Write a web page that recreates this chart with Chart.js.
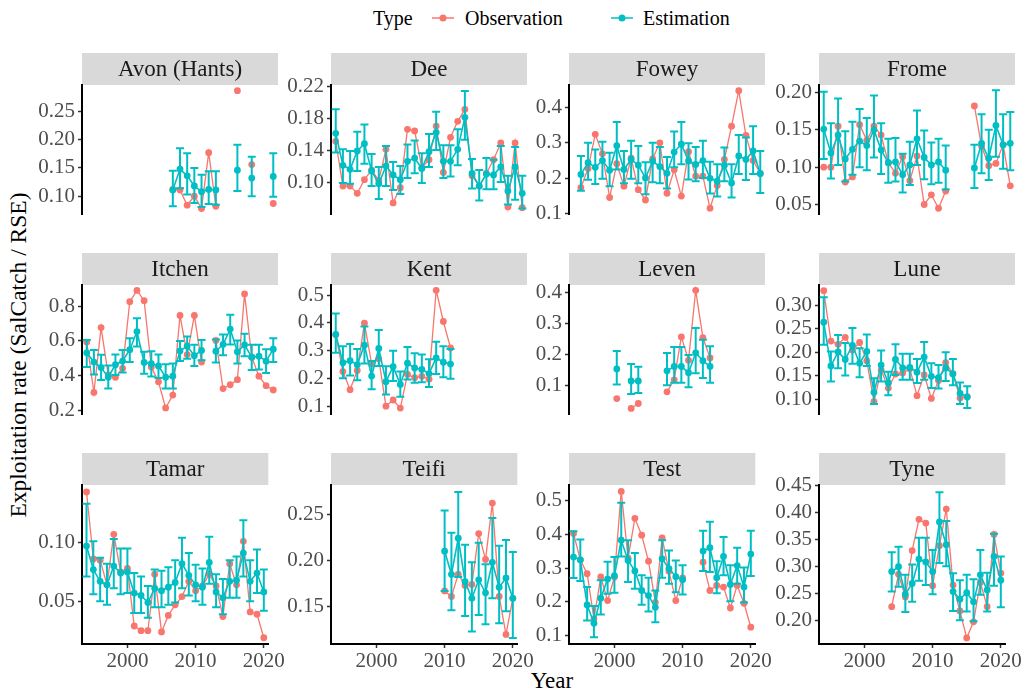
<!DOCTYPE html>
<html>
<head>
<meta charset="utf-8">
<script src="https://cdn.jsdelivr.net/npm/chart.js@4.4.7/dist/chart.umd.min.js"></script>
<style>
  body { margin: 0; background: #fff; width: 1033px; height: 693px; position: relative; overflow: hidden;
         font-family: "Liberation Serif", "DejaVu Serif", serif; }
  canvas { position: absolute; }
  .txt { position: absolute; white-space: nowrap; color: #000; line-height: 1; }
</style>
</head>
<body>
<div class="txt" style="left:373px;top:8px;font-size:20px">Type</div>
<svg style="position:absolute;left:431px;top:8px" width="24" height="20"><line x1="1" y1="10" x2="23" y2="10" stroke="#F8766D" stroke-width="1.5"/><circle cx="12" cy="10" r="3.5" fill="#F8766D"/></svg>
<div class="txt" style="left:465px;top:8px;font-size:20px">Observation</div>
<svg style="position:absolute;left:610px;top:8px" width="24" height="20"><line x1="1" y1="10" x2="23" y2="10" stroke="#00BFC4" stroke-width="1.5"/><circle cx="12" cy="10" r="3.5" fill="#00BFC4"/></svg>
<div class="txt" style="left:643px;top:8px;font-size:20px">Estimation</div>
<div class="txt" style="left:19px;top:355px;font-size:23.5px;transform:translate(-50%,-50%) rotate(-90deg)">Exploitation rate (SalCatch / RSE)</div>
<div class="txt" style="left:552px;top:680px;font-size:23px;transform:translate(-50%,-50%)">Year</div>

<script>
const N = null;
const years = [1994, 1995, 1996, 1997, 1998, 1999, 2000, 2001, 2002, 2003, 2004, 2005, 2006, 2007,
  2008, 2009, 2010, 2011, 2012, 2013, 2014, 2015, 2016, 2017, 2018, 2019, 2020];
const yearTicks = [2000, 2010, 2020];

// Avon (Hants)
const avonObs = [N,N,N,N,N,N,N,N,N,N,N,N, 0.112,0.111,0.084,0.100,0.078,0.177,0.082, N,N,0.287,N,0.156,N,N,0.087];
const avonEst = [N,N,N,N,N,N,N,N,N,N,N,N, 0.111,0.148,0.136,0.118,0.108,0.112,0.111, N,N,0.146,N,0.132,N,N,0.135];
const avonLo  = [N,N,N,N,N,N,N,N,N,N,N,N, 0.082,0.114,0.103,0.088,0.081,0.086,0.085, N,N,0.109,N,0.100,N,N,0.099];
const avonHi  = [N,N,N,N,N,N,N,N,N,N,N,N, 0.145,0.185,0.176,0.150,0.138,0.144,0.144, N,N,0.191,N,0.170,N,N,0.176];
const avonRange = [0.0684, 0.297];
const avonTicks = [0.10, 0.15, 0.20, 0.25];

// Dee
const deeObs = [0.152,0.096,0.096,0.087,0.104,0.116,0.103,0.142,0.075,0.094,0.167,0.165,0.119,0.129,0.171,0.113,0.157,0.177,0.192,0.109,0.096,0.112,0.129,0.150,0.070,0.150,0.069];
const deeEst = [0.162,0.122,0.117,0.140,0.149,0.115,0.099,0.121,0.110,0.104,0.127,0.131,0.118,0.139,0.163,0.127,0.127,0.142,0.182,0.112,0.096,0.111,0.110,0.120,0.090,0.120,0.087];
const deeLo  = [0.138,0.100,0.099,0.115,0.124,0.096,0.080,0.096,0.091,0.086,0.106,0.112,0.100,0.120,0.141,0.106,0.108,0.122,0.154,0.093,0.078,0.092,0.092,0.101,0.073,0.079,0.068];
const deeHi  = [0.192,0.142,0.140,0.164,0.173,0.136,0.120,0.146,0.126,0.121,0.148,0.153,0.137,0.161,0.189,0.147,0.147,0.167,0.215,0.130,0.116,0.131,0.129,0.146,0.109,0.145,0.109];
const deeRange = [0.0611, 0.2224];
const deeTicks = [0.10, 0.14, 0.18, 0.22];

// Fowey
const foweyObs = [N,0.174,0.228,0.324,0.269,0.146,0.241,0.178,0.257,0.168,0.139,0.255,0.300,0.158,0.224,0.150,0.275,0.206,0.206,0.116,0.180,0.253,0.347,0.447,0.321,0.250,0.214];
const foweyEst = [N,0.211,0.244,0.231,0.250,0.223,0.292,0.225,0.253,0.237,0.201,0.248,0.233,0.214,0.274,0.296,0.249,0.239,0.250,0.200,0.192,0.237,0.187,0.263,0.253,0.277,0.213];
const foweyLo  = [N,0.165,0.196,0.184,0.199,0.178,0.225,0.186,0.199,0.186,0.155,0.189,0.186,0.171,0.231,0.240,0.197,0.192,0.201,0.157,0.149,0.192,0.146,0.212,0.195,0.212,0.159];
const foweyHi  = [N,0.263,0.300,0.281,0.303,0.272,0.359,0.277,0.306,0.291,0.245,0.300,0.288,0.260,0.332,0.359,0.299,0.288,0.306,0.247,0.240,0.287,0.240,0.322,0.315,0.347,0.277];
const foweyRange = [0.0995, 0.4629];
const foweyTicks = [0.1, 0.2, 0.3, 0.4];

// Frome
const fromeObs = [0.100,0.100,0.155,0.080,0.087,0.157,0.136,0.155,0.143,0.106,0.092,0.114,0.082,0.115,0.050,0.063,0.045,0.068,N,N,N,0.182,0.128,0.102,0.105,0.130,0.075];
const fromeEst = [0.151,0.119,0.143,0.111,0.124,0.135,0.129,0.150,0.123,0.106,0.107,0.090,0.103,0.138,0.113,0.103,0.107,0.096,N,N,N,0.099,0.132,0.112,0.156,0.130,0.132];
const fromeLo  = [0.111,0.085,0.103,0.081,0.090,0.100,0.096,0.113,0.091,0.079,0.081,0.066,0.076,0.103,0.084,0.077,0.079,0.070,N,N,N,0.072,0.092,0.083,0.114,0.098,0.096];
const fromeHi  = [0.201,0.159,0.192,0.148,0.161,0.178,0.166,0.196,0.159,0.138,0.139,0.118,0.134,0.176,0.149,0.133,0.138,0.129,N,N,N,0.130,0.171,0.150,0.203,0.171,0.174];
const fromeRange = [0.0373, 0.2101];
const fromeTicks = [0.05, 0.10, 0.15, 0.20];

// Itchen
const itchenObs = [0.594,0.305,0.677,0.405,0.392,0.443,0.825,0.890,0.831,0.451,0.366,0.216,0.290,0.746,0.522,0.746,0.479,N,0.603,0.327,0.349,0.378,0.870,0.507,0.398,0.344,0.319];
const itchenEst = [0.532,0.479,0.448,0.392,0.464,0.485,0.550,0.654,0.477,0.470,0.457,0.392,0.398,0.543,0.571,0.516,0.546,N,0.541,0.580,0.668,0.538,0.578,0.507,0.513,0.484,0.553];
const itchenLo  = [0.451,0.408,0.377,0.327,0.405,0.420,0.479,0.569,0.412,0.397,0.388,0.327,0.327,0.485,0.498,0.456,0.490,N,0.476,0.518,0.580,0.471,0.513,0.433,0.436,0.417,0.479];
const itchenHi  = [0.606,0.549,0.521,0.460,0.522,0.549,0.615,0.730,0.538,0.541,0.522,0.467,0.471,0.600,0.626,0.578,0.606,N,0.608,0.637,0.750,0.603,0.642,0.578,0.578,0.552,0.615];
const itchenRange = [0.1814, 0.9209];
const itchenTicks = [0.2, 0.4, 0.6, 0.8];

// Kent
const kentObs = [0.357,0.225,0.160,0.229,0.399,0.253,0.271,0.101,0.123,0.094,0.215,0.203,0.208,0.198,0.517,0.405,0.310,N,N,N,N,N,N,N,N,N,N];
const kentEst = [0.359,0.257,0.264,0.250,0.320,0.209,0.308,0.189,0.243,0.179,0.255,0.238,0.233,0.218,0.274,0.259,0.252,N,N,N,N,N,N,N,N,N,N];
const kentLo  = [0.293,0.201,0.211,0.194,0.254,0.162,0.245,0.143,0.191,0.135,0.197,0.185,0.187,0.170,0.216,0.205,0.199,N,N,N,N,N,N,N,N,N,N];
const kentHi  = [0.434,0.316,0.324,0.306,0.387,0.263,0.374,0.244,0.300,0.225,0.313,0.291,0.286,0.269,0.332,0.316,0.306,N,N,N,N,N,N,N,N,N,N];
const kentRange = [0.0728, 0.536];
const kentTicks = [0.1, 0.2, 0.3, 0.4, 0.5];

// Leven
const levenObs = [N,N,N,N,N,N,0.057,N,0.025,0.041,N,N,N,0.079,0.118,0.257,0.181,0.408,0.255,0.189,N,N,N,N,N,N,N];
const levenEst = [N,N,N,N,N,N,0.153,N,0.114,0.114,N,N,N,0.147,0.161,0.161,0.141,0.205,0.180,0.161,N,N,N,N,N,N,N];
const levenLo  = [N,N,N,N,N,N,0.103,N,0.072,0.075,N,N,N,0.100,0.108,0.108,0.094,0.139,0.124,0.108,N,N,N,N,N,N,N];
const levenHi  = [N,N,N,N,N,N,0.211,N,0.169,0.160,N,N,N,0.205,0.224,0.224,0.198,0.286,0.248,0.227,N,N,N,N,N,N,N];
const levenRange = [0.007, 0.4254];
const levenTicks = [0.1, 0.2, 0.3, 0.4];

// Lune
const luneObs = [0.331,0.224,0.217,0.232,0.205,0.221,0.182,0.095,0.163,0.124,0.154,0.156,0.165,0.108,0.152,0.102,0.140,0.178,0.155,0.103,0.106,N,N,N,N,N,N];
const luneEst = [0.264,0.171,0.201,0.185,0.215,0.177,0.202,0.115,0.173,0.135,0.185,0.167,0.168,0.158,0.190,0.149,0.146,0.167,0.154,0.113,0.105,N,N,N,N,N,N];
const luneLo  = [0.216,0.138,0.166,0.151,0.176,0.147,0.171,0.090,0.138,0.109,0.152,0.142,0.142,0.135,0.142,0.124,0.123,0.139,0.130,0.090,0.082,N,N,N,N,N,N];
const luneHi  = [0.317,0.202,0.237,0.220,0.252,0.209,0.238,0.145,0.204,0.159,0.217,0.197,0.197,0.186,0.222,0.177,0.173,0.200,0.186,0.136,0.128,N,N,N,N,N,N];
const luneRange = [0.069, 0.3432];
const luneTicks = [0.10, 0.15, 0.20, 0.25, 0.30];

// Tamar
const tamarObs = [0.143,0.086,0.085,0.064,0.107,0.075,0.078,0.029,0.025,0.025,0.073,0.024,0.038,0.047,0.054,0.067,0.059,0.063,0.073,0.063,0.037,0.082,0.064,0.101,0.041,0.039,0.019];
const tamarEst = [0.097,0.077,0.067,0.064,0.080,0.074,0.075,0.057,0.055,0.049,0.061,0.059,0.062,0.066,0.082,0.072,0.064,0.062,0.083,0.058,0.053,0.067,0.068,0.091,0.067,0.074,0.058];
const tamarLo  = [0.071,0.056,0.050,0.047,0.061,0.056,0.057,0.040,0.040,0.036,0.045,0.045,0.047,0.049,0.061,0.055,0.050,0.047,0.065,0.045,0.039,0.053,0.053,0.071,0.050,0.057,0.042];
const tamarHi  = [0.133,0.101,0.087,0.082,0.103,0.095,0.095,0.074,0.071,0.063,0.077,0.076,0.079,0.085,0.104,0.091,0.081,0.078,0.105,0.073,0.069,0.085,0.088,0.119,0.085,0.094,0.077];
const tamarRange = [0.0137, 0.1489];
const tamarTicks = [0.05, 0.10];

// Teifi
const teifiObs = [N,N,N,N,N,N,N,N,N,N,N,N,N,N,N,N, 0.167,0.161,0.185,0.173,0.174,0.229,0.201,0.262,0.161,0.120,0.159];
const teifiEst = [N,N,N,N,N,N,N,N,N,N,N,N,N,N,N,N, 0.210,0.185,0.224,0.177,0.159,0.179,0.165,0.198,0.171,0.181,0.159];
const teifiLo  = [N,N,N,N,N,N,N,N,N,N,N,N,N,N,N,N, 0.167,0.146,0.182,0.140,0.123,0.141,0.131,0.159,0.132,0.145,0.116];
const teifiHi  = [N,N,N,N,N,N,N,N,N,N,N,N,N,N,N,N, 0.254,0.230,0.274,0.217,0.198,0.219,0.196,0.246,0.216,0.222,0.209];
const teifiRange = [0.1096, 0.2816];
const teifiTicks = [0.15, 0.20, 0.25];

// Test
const testObs = [0.403,0.325,0.284,0.150,0.274,0.204,0.274,0.528,0.330,0.448,0.398,0.321,0.199,0.390,0.291,0.204,0.271,N,N,0.318,0.234,0.249,0.244,0.182,0.249,0.196,0.125];
const testEst = [0.333,0.325,0.191,0.137,0.211,0.268,0.278,0.383,0.323,0.292,0.234,0.219,0.184,0.328,0.299,0.275,0.266,N,N,0.351,0.361,0.272,0.335,0.252,0.308,0.244,0.342];
const testLo  = [0.271,0.262,0.145,0.095,0.163,0.224,0.227,0.335,0.259,0.239,0.192,0.172,0.140,0.272,0.254,0.229,0.222,N,N,0.292,0.289,0.226,0.279,0.202,0.254,0.198,0.277];
const testHi  = [0.410,0.385,0.244,0.188,0.264,0.319,0.333,0.494,0.383,0.345,0.279,0.272,0.234,0.383,0.353,0.323,0.309,N,N,0.411,0.438,0.321,0.393,0.309,0.361,0.302,0.411];
const testRange = [0.0752, 0.547];
const testTicks = [0.1, 0.2, 0.3, 0.4, 0.5];

// Tyne
const tyneObs = [N,N,N,N,N,N,N,N,N,N, 0.225,0.285,0.243,0.329,0.387,0.380,0.264,0.338,0.406,0.265,0.217,0.167,0.197,0.270,0.225,0.359,0.287];
const tyneEst = [N,N,N,N,N,N,N,N,N,N, 0.290,0.299,0.248,0.268,0.313,0.308,0.290,0.382,0.340,0.253,0.239,0.251,0.234,0.284,0.256,0.318,0.274];
const tyneLo  = [N,N,N,N,N,N,N,N,N,N, 0.253,0.262,0.215,0.234,0.273,0.265,0.248,0.306,0.300,0.217,0.200,0.216,0.198,0.247,0.216,0.264,0.224];
const tyneHi  = [N,N,N,N,N,N,N,N,N,N, 0.326,0.336,0.284,0.303,0.353,0.353,0.330,0.437,0.384,0.287,0.274,0.284,0.276,0.330,0.288,0.360,0.318];
const tyneRange = [0.1558, 0.4506];
const tyneTicks = [0.20, 0.25, 0.30, 0.35, 0.40, 0.45];

const panels = [
  ["Avon (Hants)", avonObs, avonEst, avonLo, avonHi, avonRange, avonTicks, 2],
  ["Dee", deeObs, deeEst, deeLo, deeHi, deeRange, deeTicks, 2],
  ["Fowey", foweyObs, foweyEst, foweyLo, foweyHi, foweyRange, foweyTicks, 1],
  ["Frome", fromeObs, fromeEst, fromeLo, fromeHi, fromeRange, fromeTicks, 2],
  ["Itchen", itchenObs, itchenEst, itchenLo, itchenHi, itchenRange, itchenTicks, 1],
  ["Kent", kentObs, kentEst, kentLo, kentHi, kentRange, kentTicks, 1],
  ["Leven", levenObs, levenEst, levenLo, levenHi, levenRange, levenTicks, 1],
  ["Lune", luneObs, luneEst, luneLo, luneHi, luneRange, luneTicks, 2],
  ["Tamar", tamarObs, tamarEst, tamarLo, tamarHi, tamarRange, tamarTicks, 2],
  ["Teifi", teifiObs, teifiEst, teifiLo, teifiHi, teifiRange, teifiTicks, 2],
  ["Test", testObs, testEst, testLo, testHi, testRange, testTicks, 1],
  ["Tyne", tyneObs, tyneEst, tyneLo, tyneHi, tyneRange, tyneTicks, 2],
];

const OBS = "#F8766D";
const EST = "#00BFC4";
const FONT = '"Liberation Serif", "DejaVu Serif", serif';
const colLeft = [82, 331, 569, 819];
const rowTop = [53, 253, 453];
const STRIP_H = 32, PLOT_W = 196, PLOT_H = 159, AXIS_W = 64, XAXIS_H = 30, PAD_R = 8;

Chart.defaults.font.family = FONT;
Chart.defaults.color = "#4D4D4D";

const points = (vals) => years.map((yr, i) => ({ x: yr, y: vals[i] }));

function stripPlugin(name) {
  return {
    id: "strip",
    beforeDraw(chart) {
      const { ctx, chartArea } = chart;
      ctx.save();
      ctx.fillStyle = "#D9D9D9";
      ctx.fillRect(chartArea.left, 0, chartArea.right - chartArea.left, STRIP_H);
      ctx.fillStyle = "#1A1A1A";
      ctx.font = "23px " + FONT;
      ctx.textAlign = "center";
      ctx.textBaseline = "middle";
      ctx.fillText(name, (chartArea.left + chartArea.right) / 2, STRIP_H / 2 + 1);
      ctx.restore();
    },
  };
}

function errorBarPlugin(lo, hi) {
  return {
    id: "errorBars",
    afterDatasetsDraw(chart) {
      const { ctx } = chart;
      const xs = chart.scales.x, ys = chart.scales.y;
      ctx.save();
      ctx.strokeStyle = EST;
      ctx.lineWidth = 2;
      years.forEach((yr, i) => {
        if (lo[i] == null || hi[i] == null) return;
        const px = xs.getPixelForValue(yr);
        const top = ys.getPixelForValue(hi[i]);
        const bot = ys.getPixelForValue(lo[i]);
        ctx.beginPath();
        ctx.moveTo(px, top); ctx.lineTo(px, bot);
        ctx.moveTo(px - 4, top); ctx.lineTo(px + 4, top);
        ctx.moveTo(px - 4, bot); ctx.lineTo(px + 4, bot);
        ctx.stroke();
      });
      ctx.restore();
    },
  };
}

panels.forEach(([name, obs, est, lo, hi, range, ticks, dec], k) => {
  const col = k % 4, row = Math.floor(k / 4);
  const bottom = row === 2;
  const canvas = document.createElement("canvas");
  const w = AXIS_W + PLOT_W + PAD_R;
  const h = STRIP_H + PLOT_H + (bottom ? XAXIS_H : 0);
  canvas.width = w; canvas.height = h;
  canvas.style.left = (colLeft[col] - AXIS_W) + "px";
  canvas.style.top = rowTop[row] + "px";
  canvas.style.width = w + "px"; canvas.style.height = h + "px";
  document.body.appendChild(canvas);

  new Chart(canvas, {
    type: "line",
    data: {
      datasets: [
        { label: "Estimation", data: points(est), order: 0, borderColor: EST, backgroundColor: EST,
          borderWidth: 1.6, pointRadius: 3.4, pointBorderWidth: 0, spanGaps: false, clip: false },
        { label: "Observation", data: points(obs), order: 1, borderColor: OBS, backgroundColor: OBS,
          borderWidth: 1.3, pointRadius: 3.4, pointBorderWidth: 0, spanGaps: false, clip: false },
      ],
    },
    options: {
      responsive: false,
      animation: false,
      devicePixelRatio: 1,
      layout: { padding: { top: STRIP_H, right: PAD_R, left: 0, bottom: 0 } },
      plugins: { legend: { display: false }, tooltip: { enabled: false } },
      scales: {
        x: {
          type: "linear", min: 1993.34, max: 2020.66, display: bottom,
          afterBuildTicks: (s) => { s.ticks = yearTicks.map((v) => ({ value: v })); },
          afterFit: (s) => { s.height = XAXIS_H; },
          ticks: { font: { size: 21 }, color: "#4D4D4D", padding: 1, autoSkip: false, maxRotation: 0,
                   callback: (v) => String(v) },
          grid: { drawOnChartArea: false, tickLength: 4, tickColor: "#333333", tickWidth: 1.5 },
          border: { display: true, color: "#000000", width: 2 },
        },
        y: {
          type: "linear", min: range[0], max: range[1],
          afterBuildTicks: (s) => { s.ticks = ticks.map((v) => ({ value: v })); },
          afterFit: (s) => { s.width = AXIS_W; },
          ticks: { font: { size: 21 }, color: "#4D4D4D", padding: 3, callback: (v) => Number(v).toFixed(dec) },
          grid: { drawOnChartArea: false, tickLength: 4, tickColor: "#333333", tickWidth: 1.5 },
          border: { display: true, color: "#000000", width: 2 },
        },
      },
    },
    plugins: [stripPlugin(name), errorBarPlugin(lo, hi)],
  });
});
</script>
</body>
</html>
